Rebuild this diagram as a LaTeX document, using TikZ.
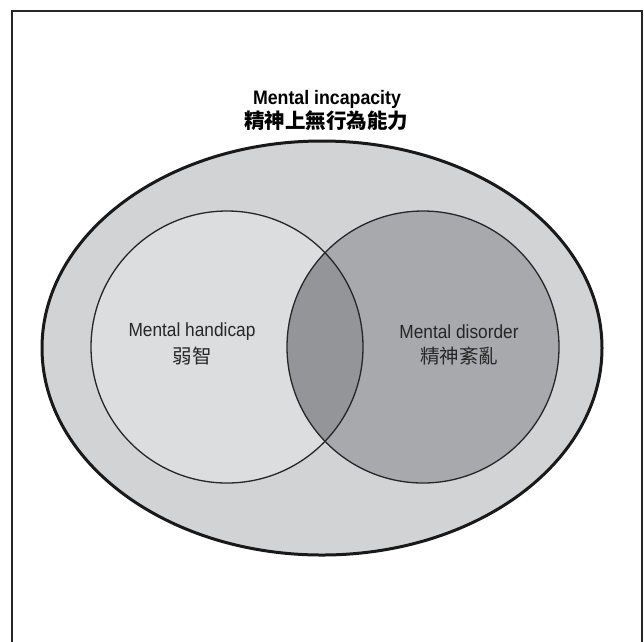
\documentclass[tikz,border=0pt]{standalone}
\usepackage{fontspec}
\setmainfont{Liberation Sans}
\newfontfamily\cond[FakeStretch=0.91]{Liberation Sans}
\newfontfamily\cjk{Noto Sans CJK TC}
\definecolor{outerfill}{HTML}{D1D3D4}
\definecolor{leftfill}{HTML}{DCDDDE}
\definecolor{rightfill}{HTML}{A7A9AC}
\definecolor{midfill}{HTML}{939598}
\tikzset{
  lbl/.style={align=center, inner sep=0pt, font=\cond\fontsize{19}{23}\selectfont, text=black!85},
  lblcn/.style={align=center, inner sep=0pt, font=\cjk\fontsize{19.5}{23}\selectfont, text=black!85},
  ttl/.style={align=center, inner sep=0pt, font=\cond\bfseries\fontsize{19.5}{23}\selectfont},
  ttlcn/.style={align=center, inner sep=0pt, font=\cjk\bfseries\fontsize{20.5}{23}\selectfont},
  circline/.style={draw=black!85, line width=1.3pt},
}
\begin{document}
\begin{tikzpicture}[x=1pt,y=-1pt]
\useasboundingbox (0,0) rectangle (644,641);
\begin{scope}
\clip (0,0) rectangle (644,641);
\draw[line width=2.2pt, black!85] (12,650) -- (12,11) -- (642,11) -- (642,650);
\end{scope}
% outer ellipse
\fill[outerfill] (322,348) ellipse [x radius=280, y radius=207];
\draw[line width=3pt, black!90] (322,348) ellipse [x radius=280, y radius=207];
% circles
\fill[leftfill] (227,347) circle [radius=136];
\fill[rightfill] (423,347) circle [radius=136];
\begin{scope}
\clip (227,347) circle [radius=136];
\fill[midfill] (423,347) circle [radius=136];
\end{scope}
\draw[circline] (227,347) circle [radius=136];
\draw[circline] (423,347) circle [radius=136];
% labels
\node[ttl] (title) at (327,99) {Mental incapacity};
\node[ttlcn] (titlecn) at (326,121) {精神上無行為能力};
\node[lbl] (left) at (192,332) {Mental handicap};
\node[lblcn] (leftcn) at (192,356) {弱智};
\node[lbl] (right) at (459,332) {Mental disorder};
\node[lblcn] (rightcn) at (459,356) {精神紊亂};
\end{tikzpicture}
\end{document}
